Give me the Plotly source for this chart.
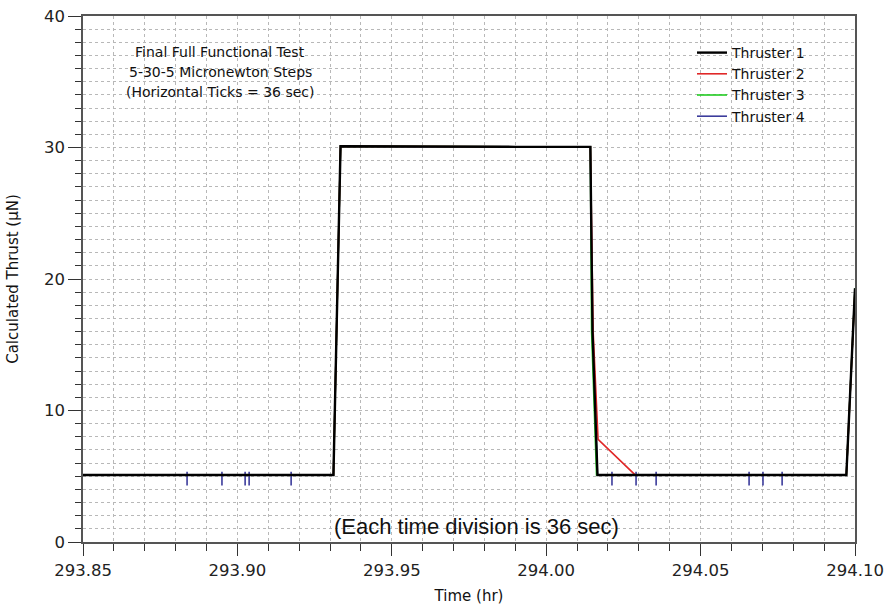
import plotly.graph_objects as go

# ---- data ----
t_common_rise = [293.85, 293.9311, 293.9334, 293.96, 293.99, 294.0143]
y_common_rise = [5.1, 5.1, 30.1, 30.05, 30.05, 30.05]

# Thruster 1 (black)
t1_tail = [294.0150, 294.0166, 294.0972, 294.1000]
y1_tail = [16.0, 5.1, 5.1, 19.3]

# Thruster 2 (red) - slower decay at the end of the 30 uN step
t2_tail = [294.0152, 294.0168, 294.0288, 294.0972, 294.1000]
y2_tail = [16.0, 7.8, 5.1, 5.1, 19.2]

# Thruster 3 (green)
t3_tail = [294.0147, 294.0163, 294.0972, 294.1000]
y3_tail = [16.0, 5.1, 5.1, 19.3]

# Thruster 4 (blue) - same profile with short glitches
t4_tail = [294.0150, 294.0166, 294.0972, 294.1000]
y4_tail = [16.0, 5.1, 5.1, 19.3]
spike_times = [293.8837, 293.8950, 293.9025, 293.9038, 293.9174,
               294.0213, 294.0291, 294.0356, 294.0657, 294.0702, 294.0764]
spike_high = 5.35
spike_low = 4.3
base_level = 5.1

x_range = [293.85, 294.10]
y_range = [0, 40]
x_tickvals = [293.85, 293.90, 293.95, 294.00, 294.05, 294.10]
x_ticktext = ["293.85", "293.90", "293.95", "294.00", "294.05", "294.10"]
y_tickvals = [0, 10, 20, 30, 40]

names = ["Thruster 1", "Thruster 2", "Thruster 3", "Thruster 4"]
colors = ["#000000", "#e02828", "#22cc22", "#3c3c9c"]

info_lines = ["Final Full Functional Test", "5-30-5 Micronewton Steps",
              "(Horizontal Ticks = 36 sec)"]
note_text = "(Each time division is 36 sec)"

# ---- build series ----
t1 = t_common_rise + t1_tail
y1 = y_common_rise + y1_tail
t2 = t_common_rise + t2_tail
y2 = y_common_rise + y2_tail
t3 = t_common_rise + t3_tail
y3 = y_common_rise + y3_tail

base4_t = t_common_rise + t4_tail
base4_y = y_common_rise + y4_tail
pts = list(zip(base4_t, base4_y))
for st in spike_times:
    pts += [(st, base_level), (st, spike_high), (st, spike_low), (st, base_level)]
pts.sort(key=lambda p: p[0])
t4 = [p[0] for p in pts]
y4 = [p[1] for p in pts]

series = [(t1, y1), (t2, y2), (t3, y3), (t4, y4)]
widths = [2.4, 1.6, 1.6, 1.6]

fig = go.Figure()
# draw Thruster 4 first so Thruster 1 sits on top
for i in [3, 2, 1, 0]:
    tx, ty = series[i]
    fig.add_trace(go.Scatter(x=tx, y=ty, mode="lines", name=names[i],
                             line=dict(color=colors[i], width=widths[i])))

L, R, T, B = 83, 31, 16, 63
W, H = 886, 605
pw = W - L - R
ph = H - T - B

def px_x(px):
    return (px - L) / pw

def px_y(py):
    return (H - B - py) / ph

grid_col = "#b8b8b8"
axis_font = dict(family="DejaVu Sans", size=16.5, color="#222222")

fig.update_layout(
    width=W, height=H,
    margin=dict(l=L, r=R, t=T, b=B, autoexpand=False),
    paper_bgcolor="white", plot_bgcolor="white",
    showlegend=True,
    legend=dict(x=px_x(692), y=px_y(37), xanchor="left", yanchor="top",
                bgcolor="rgba(0,0,0,0)", borderwidth=0,
                traceorder="reversed",
                font=dict(family="DejaVu Sans", size=14, color="#111111")),
    xaxis=dict(range=x_range, tickmode="array", tickvals=x_tickvals,
               ticktext=x_ticktext, ticks="outside", ticklen=12, tickwidth=1.2,
               tickcolor="#333333", showline=True, linecolor="#555555",
               linewidth=1.5, mirror=True, showgrid=True, gridcolor=grid_col,
               griddash="dot", gridwidth=1, zeroline=False,
               tickfont=axis_font,
               minor=dict(dtick=0.01, tick0=293.85, ticks="outside", ticklen=7,
                          tickcolor="#333333", tickwidth=1.2, showgrid=True,
                          gridcolor=grid_col, griddash="dot", gridwidth=1),
               title=dict(text="Time (hr)", standoff=14,
                          font=dict(family="DejaVu Sans", size=15, color="#111111"))),
    yaxis=dict(range=y_range, tickmode="array", tickvals=y_tickvals,
               ticks="outside", ticklen=13, tickwidth=1.2, tickcolor="#333333",
               showline=True, linecolor="#555555", linewidth=1.5, mirror=True,
               showgrid=True, gridcolor=grid_col, griddash="dot", gridwidth=1,
               zeroline=False, tickfont=axis_font,
               minor=dict(dtick=1, tick0=0, ticks="outside", ticklen=6,
                          tickcolor="#333333", tickwidth=1.2, showgrid=True,
                          gridcolor=grid_col, griddash="dot", gridwidth=1),
               title=dict(text="Calculated Thrust (\u03bcN)", standoff=22,
                          font=dict(family="DejaVu Sans", size=15, color="#111111"))),
)

line_ys = [52, 72, 92]
for txt, yy in zip(info_lines, line_ys):
    fig.add_annotation(text=txt, x=px_x(220), y=px_y(yy), xref="paper", yref="paper",
                       xanchor="center", yanchor="middle", showarrow=False,
                       font=dict(family="DejaVu Sans", size=14, color="#111111"))

fig.add_annotation(text=note_text, x=px_x(476.5), y=px_y(526), xref="paper", yref="paper",
                   xanchor="center", yanchor="middle", showarrow=False,
                   font=dict(family="Liberation Sans", size=22, color="#111111"))

fig.write_html("out.html")
